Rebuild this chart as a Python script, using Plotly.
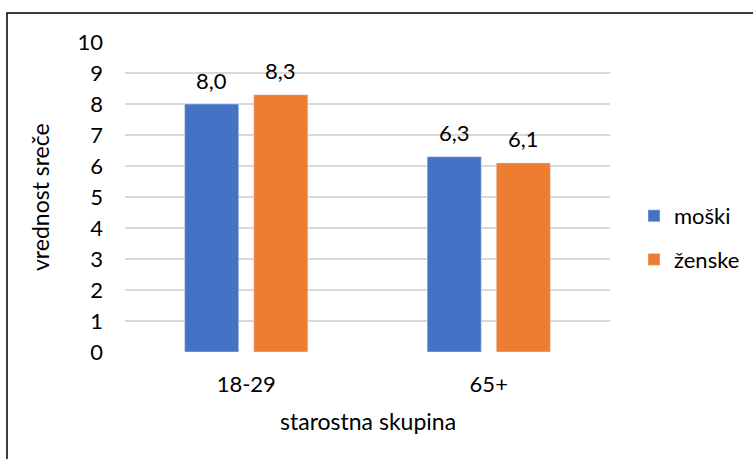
import plotly.graph_objects as go

categories = ["18-29", "65+"]
moski = [8.0, 6.3]
zenske = [8.3, 6.1]
y_ticks = list(range(0, 11))

FONT = "Lato"
FS = 22
W, H = 753, 459
L, R, T, B = 125, 143, 42, 107
pw, ph = W - L - R, H - T - B
BAR_SHIFT = 34.5  # half of one bar slot, in px


def px_x(x):
    return (x - L) / pw


def px_y(y):
    return (H - B - y) / ph


fig = go.Figure()
fig.add_trace(go.Bar(
    name="moški", x=categories, y=moski, marker_color="#4472C4",
    legendgroup="m",
))
fig.add_trace(go.Bar(
    name="ženske", x=categories, y=zenske, marker_color="#ED7D31",
    legendgroup="z",
))

# value labels above each bar
labels = []
for vals, shift in ((moski, -BAR_SHIFT), (zenske, BAR_SHIFT)):
    for cat, v in zip(categories, vals):
        labels.append(dict(
            x=cat, y=v, xref="x", yref="y", text=f"{v:.1f}".replace(".", ","),
            showarrow=False, xshift=shift, yshift=24,
            xanchor="center", yanchor="middle", font=dict(size=FS),
        ))

fig.update_layout(
    width=W, height=H,
    margin=dict(l=L, r=R, t=T, b=B, autoexpand=False),
    paper_bgcolor="white", plot_bgcolor="white",
    separators=", ",
    font=dict(family=FONT, size=FS, color="black"),
    barmode="group", bargap=0.43, bargroupgap=0.217,
    showlegend=True,
    legend=dict(x=px_x(634), y=px_y(195), xanchor="left", yanchor="top",
                font=dict(size=FS), tracegroupgap=12, itemwidth=30,
                bgcolor="rgba(0,0,0,0)"),
    yaxis=dict(range=[0, 10], tickvals=y_ticks, showgrid=True,
               gridcolor="#D9D9D9", gridwidth=1.5, zeroline=False,
               showline=False, ticks="", ticklabelstandoff=21,
               tickfont=dict(size=FS)),
    xaxis=dict(showline=False, ticks="", ticklabelstandoff=17,
               tickfont=dict(size=FS)),
    annotations=labels + [
        dict(text="vrednost sreče", xref="paper", yref="paper",
             x=px_x(40), y=px_y(197), showarrow=False, textangle=-90,
             font=dict(size=FS + 1), xanchor="center", yanchor="middle"),
        dict(text="starostna skupina", xref="paper", yref="paper",
             x=px_x(368), y=px_y(421), showarrow=False,
             font=dict(size=FS + 1), xanchor="center", yanchor="middle"),
    ],
    shapes=[
        dict(type="rect", xref="paper", yref="paper",
             x0=px_x(7), y0=px_y(480), x1=px_x(780), y1=px_y(13),
             line=dict(color="black", width=1.5), layer="below"),
    ],
)

fig.write_html("out.html")
